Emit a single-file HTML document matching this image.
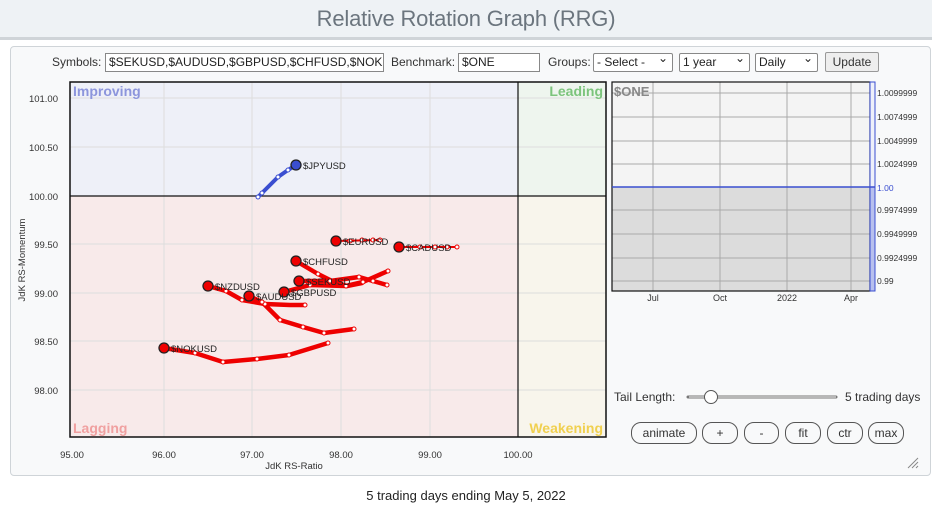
<!DOCTYPE html>
<html><head><style>
*{box-sizing:border-box}
body{margin:0;width:932px;height:514px;background:#fff;font-family:"Liberation Sans",sans-serif;position:relative;overflow:hidden}
.hdr{position:absolute;left:0;top:0;width:932px;height:40px;background:#eef2f5;border-bottom:3px solid #cfd4d8;text-align:center;font-size:22px;color:#6b757e;line-height:38px;letter-spacing:-0.2px}
.panel{position:absolute;left:10px;top:46px;width:921px;height:430px;background:#f8f9fa;border:1px solid #cfd4d8;border-radius:4px}
.lbl{position:absolute;font-size:12px;color:#333}
.inp{position:absolute;height:19px;border:1px solid #888;background:#fff;font-size:12px;line-height:17px;padding-left:3px;color:#222;white-space:nowrap;overflow:hidden}
.sel{position:absolute;height:19px;border:1px solid #888;background:#fff;font-size:12px;line-height:17px;padding-left:3px;color:#222;border-radius:2px}
.sel:after{content:"⌄";position:absolute;right:4px;top:-4px;font-size:12px}
.btn{position:absolute;height:22px;border:1px solid #555;border-radius:10px;background:#f8f9fa;font-size:12px;line-height:20px;text-align:center;color:#333}
.foot{position:absolute;left:0;width:932px;top:488px;text-align:center;font-size:13px;color:#222}
</style></head><body>
<div class="hdr">Relative Rotation Graph (RRG)</div>
<div class="panel"></div>
<div class="lbl" style="left:52px;top:55px">Symbols:</div>
<div class="inp" style="left:105px;top:53px;width:279px">$SEKUSD,$AUDUSD,$GBPUSD,$CHFUSD,$NOK</div>
<div class="lbl" style="left:391px;top:55px">Benchmark:</div>
<div class="inp" style="left:458px;top:53px;width:82px">$ONE</div>
<div class="lbl" style="left:548px;top:55px">Groups:</div>
<div class="sel" style="left:593px;top:53px;width:80px">- Select -</div>
<div class="sel" style="left:679px;top:53px;width:71px">1 year</div>
<div class="sel" style="left:755px;top:53px;width:63px">Daily</div>
<div class="btn" style="left:825px;top:52px;width:54px;height:20px;border-radius:2px;line-height:18px;background:#eee;border-color:#999">Update</div>

<svg width="932" height="514" style="position:absolute;left:0;top:0" font-family="Liberation Sans, sans-serif">
<rect x="70" y="82" width="448" height="114" fill="#eef0f8"/>
<rect x="518" y="82" width="88" height="114" fill="#eef5ee"/>
<rect x="70" y="196" width="448" height="241" fill="#f8eaea"/>
<rect x="518" y="196" width="88" height="241" fill="#f8f5ec"/>
<g stroke="#ddd" stroke-width="1">
<line x1="164" y1="82" x2="164" y2="437"/><line x1="252" y1="82" x2="252" y2="437"/><line x1="341" y1="82" x2="341" y2="437"/><line x1="430" y1="82" x2="430" y2="437"/>
<line x1="70" y1="98" x2="606" y2="98"/><line x1="70" y1="147" x2="606" y2="147"/><line x1="70" y1="244" x2="606" y2="244"/><line x1="70" y1="293" x2="606" y2="293"/><line x1="70" y1="341" x2="606" y2="341"/><line x1="70" y1="390" x2="606" y2="390"/>
</g>
<rect x="70" y="82" width="536" height="355" fill="none" stroke="#111" stroke-width="1.5"/>
<line x1="518" y1="82" x2="518" y2="437" stroke="#111" stroke-width="1.2"/>
<line x1="70" y1="196" x2="606" y2="196" stroke="#111" stroke-width="1.2"/>
<g font-size="14" font-weight="bold">
<text x="73" y="96" fill="#8c95dc">Improving</text>
<text x="603" y="96" fill="#7cc47c" text-anchor="end">Leading</text>
<text x="73" y="433" fill="#f0a0a0">Lagging</text>
<text x="603" y="433" fill="#f0d050" text-anchor="end">Weakening</text>
</g>
<g font-size="9.5" fill="#333" text-anchor="end">
<text x="58" y="102">101.00</text><text x="58" y="151">100.50</text><text x="58" y="200">100.00</text><text x="58" y="248">99.50</text><text x="58" y="297">99.00</text><text x="58" y="345">98.50</text><text x="58" y="394">98.00</text>
</g>
<g font-size="9.5" fill="#333" text-anchor="middle">
<text x="72" y="458">95.00</text><text x="164" y="458">96.00</text><text x="252" y="458">97.00</text><text x="341" y="458">98.00</text><text x="430" y="458">99.00</text><text x="518" y="458">100.00</text>
<text x="294" y="469">JdK RS-Ratio</text>
</g>
<text x="25" y="260" font-size="9.5" fill="#333" text-anchor="middle" transform="rotate(-90 25 260)">JdK RS-Momentum</text>

<g fill="none" stroke="#e00" stroke-width="4.5" stroke-linejoin="round" stroke-linecap="round">
<polyline points="164,348 195,353 223,362 257,359 289,355 328,343"/>
<polyline points="208,286 226,291 242,300 265,304 290,305 305,305"/>
<polyline points="249,296 262,302 280,320 303,327 324,333 354,329"/>
<polyline points="284,292 310,285 346,286 363,282 388,271"/>
<polyline points="299,281 330,281 359,277 373,281 387,285"/>
<polyline points="296,261 318,274 332,281 347,286 362,283"/>
<polyline points="336,241 380,240" stroke-width="2"/>
<polyline points="399,247 457,247" stroke-width="2"/>
</g>
<polyline points="296,165 288,170 278,177 262,193 258,197" fill="none" stroke="#3a4ed0" stroke-width="4" stroke-linecap="round"/>
<g fill="#fff" stroke="#e00" stroke-width="1">
<circle cx="195" cy="353" r="2"/><circle cx="223" cy="362" r="2"/><circle cx="257" cy="359" r="2"/><circle cx="289" cy="355" r="2"/><circle cx="328" cy="343" r="2"/>
<circle cx="226" cy="291" r="2"/><circle cx="242" cy="300" r="2"/><circle cx="265" cy="304" r="2"/><circle cx="305" cy="305" r="2"/>
<circle cx="262" cy="302" r="2"/><circle cx="280" cy="320" r="2"/><circle cx="303" cy="327" r="2"/><circle cx="324" cy="333" r="2"/><circle cx="354" cy="329" r="2"/>
<circle cx="310" cy="285" r="2"/><circle cx="346" cy="286" r="2"/><circle cx="363" cy="282" r="2"/><circle cx="388" cy="271" r="2"/>
<circle cx="330" cy="281" r="2"/><circle cx="359" cy="277" r="2"/><circle cx="373" cy="281" r="2"/><circle cx="387" cy="285" r="2"/>
<circle cx="318" cy="274" r="2"/>
<circle cx="350" cy="241" r="2"/><circle cx="362" cy="240" r="2"/><circle cx="373" cy="240" r="2"/><circle cx="380" cy="240" r="2"/>
<circle cx="420" cy="247" r="2"/><circle cx="435" cy="247" r="2"/><circle cx="447" cy="247" r="2"/><circle cx="457" cy="247" r="2"/>
</g>
<g fill="#fff" stroke="#3a4ed0" stroke-width="1">
<circle cx="288" cy="170" r="2"/><circle cx="278" cy="177" r="2"/><circle cx="262" cy="193" r="2"/><circle cx="258" cy="197" r="2"/>
</g>
<g fill="#e00" stroke="#222" stroke-width="1.3">
<circle cx="164" cy="348" r="5"/><circle cx="208" cy="286" r="5"/><circle cx="249" cy="296" r="5"/><circle cx="284" cy="292" r="5"/><circle cx="299" cy="281" r="5"/><circle cx="296" cy="261" r="5"/><circle cx="336" cy="241" r="5"/><circle cx="399" cy="247" r="5"/>
</g>
<circle cx="296" cy="165" r="5" fill="#3a4ed0" stroke="#222" stroke-width="1.3"/>
<g font-size="9.5" fill="#222">
<text x="171" y="352">$NOKUSD</text><text x="215" y="290">$NZDUSD</text><text x="256" y="300">$AUDUSD</text><text x="291" y="296">$GBPUSD</text><text x="306" y="285">$SEKUSD</text><text x="303" y="265">$CHFUSD</text><text x="343" y="245">$EURUSD</text><text x="406" y="251">$CADUSD</text><text x="303" y="169">$JPYUSD</text>
</g>

<rect x="612" y="82" width="258" height="105" fill="#f4f4f4"/>
<rect x="612" y="187" width="258" height="104" fill="#dcdcdc"/>
<g stroke="#aaa" stroke-width="1">
<line x1="653" y1="82" x2="653" y2="291"/><line x1="720" y1="82" x2="720" y2="291"/><line x1="787" y1="82" x2="787" y2="291"/><line x1="851" y1="82" x2="851" y2="291"/>
<line x1="612" y1="93" x2="870" y2="93"/><line x1="612" y1="117" x2="870" y2="117"/><line x1="612" y1="141" x2="870" y2="141"/><line x1="612" y1="164" x2="870" y2="164"/><line x1="612" y1="210" x2="870" y2="210"/><line x1="612" y1="234" x2="870" y2="234"/><line x1="612" y1="258" x2="870" y2="258"/><line x1="612" y1="281" x2="870" y2="281"/>
</g>
<rect x="612" y="82" width="258" height="209" fill="none" stroke="#111" stroke-width="1.2"/>
<rect x="870" y="82" width="5" height="105" fill="#eef0fa" stroke="#3a4ed0" stroke-width="1"/>
<rect x="870" y="187" width="5" height="104" fill="#b8c0ee" stroke="#3a4ed0" stroke-width="1"/>
<line x1="612" y1="187" x2="875" y2="187" stroke="#3a4ed0" stroke-width="1.6"/>
<text x="614" y="96" font-size="13" font-weight="bold" fill="#888">$ONE</text>
<g font-size="8.5" fill="#333">
<text x="877" y="96">1.0099999</text><text x="877" y="120">1.0074999</text><text x="877" y="144">1.0049999</text><text x="877" y="167">1.0024999</text><text x="877" y="191" fill="#3a4ed0">1.00</text><text x="877" y="213">0.9974999</text><text x="877" y="237">0.9949999</text><text x="877" y="261">0.9924999</text><text x="877" y="284">0.99</text>
</g>
<g font-size="9" fill="#333" text-anchor="middle">
<text x="653" y="301">Jul</text><text x="720" y="301">Oct</text><text x="787" y="301">2022</text><text x="851" y="301">Apr</text>
</g>
<text x="614" y="401" font-size="12" fill="#333">Tail Length:</text>
<line x1="688" y1="397" x2="836" y2="397" stroke="#777" stroke-width="3" stroke-linecap="round"/>
<line x1="689" y1="397" x2="836" y2="397" stroke="#ddd" stroke-width="1.2"/>
<circle cx="711" cy="397" r="6.5" fill="#fff" stroke="#555" stroke-width="1"/>
<text x="845" y="401" font-size="12" fill="#333">5 trading days</text>
<g stroke="#888" stroke-width="1"><line x1="908" y1="468" x2="918" y2="458"/><line x1="912" y1="468" x2="918" y2="462"/><line x1="916" y1="468" x2="918" y2="466"/></g>
</svg>
<div class="btn" style="left:631px;top:422px;width:66px">animate</div>
<div class="btn" style="left:702px;top:422px;width:36px">+</div>
<div class="btn" style="left:744px;top:422px;width:35px">-</div>
<div class="btn" style="left:785px;top:422px;width:36px">fit</div>
<div class="btn" style="left:827px;top:422px;width:36px">ctr</div>
<div class="btn" style="left:868px;top:422px;width:36px">max</div>
<div class="foot">5 trading days ending May 5, 2022</div>
</body></html>
